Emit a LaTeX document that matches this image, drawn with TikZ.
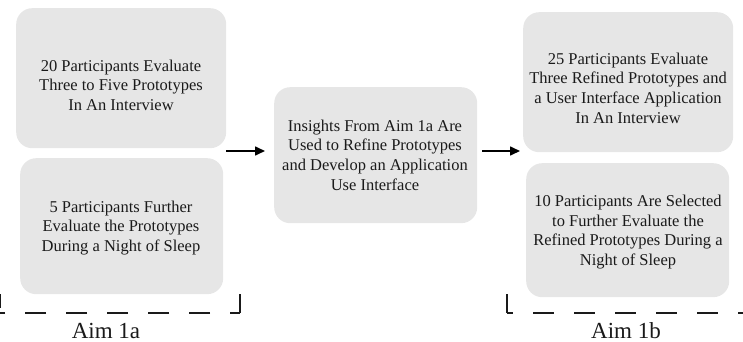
\documentclass[tikz,border=0pt]{standalone}
\usepackage{fontspec}
\setmainfont{Liberation Serif}
\usetikzlibrary{arrows.meta}
\definecolor{boxgray}{HTML}{E6E6E6}
\definecolor{txt}{HTML}{1A1A1A}
\begin{document}
\begin{tikzpicture}[x=1pt,y=-1pt,
  box/.style={fill=boxgray, rounded corners=16pt, inner sep=0pt, anchor=north west},
  lbl/.style={align=center, font=\fontsize{16.5}{19.6}\selectfont, text=txt, inner sep=0pt},
  aim/.style={font=\fontsize{23}{26}\selectfont, text=txt, inner sep=0pt},
  arr/.style={line width=1.6pt, -{Triangle[length=10pt,width=9pt]}},
  brk/.style={line width=1.6pt, txt},
  brkdash/.style={brk, dash pattern=on 21pt off 20pt}
]
\useasboundingbox (0,0) rectangle (743,342);

% boxes
\node[box, minimum width=210pt, minimum height=140pt] (b1) at (16,8) {};
\node[box, minimum width=203pt, minimum height=136pt] (b2) at (20,158) {};
\node[box, minimum width=203pt, minimum height=136pt] (mid) at (274,87) {};
\node[box, minimum width=210pt, minimum height=140pt] (r1) at (523,12) {};
\node[box, minimum width=203pt, minimum height=134pt] (r2) at (526,163) {};

% texts
\node[lbl] (t1) at (121,85) {20 Participants Evaluate\\Three to Five Prototypes\\In An Interview};
\node[lbl] (t2) at (121,228) {5 Participants Further\\Evaluate the Prototypes\\During a Night of Sleep};
\node[lbl] (tm) at (375,155) {Insights From Aim 1a Are\\Used to Refine Prototypes\\and Develop an Application\\Use Interface};
\node[lbl] (tr1) at (628,88) {25 Participants Evaluate\\Three Refined Prototypes and\\a User Interface Application\\In An Interview};
\node[lbl] (tr2) at (628,232) {10 Participants Are Selected\\to Further Evaluate the\\Refined Prototypes During a\\Night of Sleep};

% arrows
\coordinate (a1s) at (226,151);
\coordinate (a1e) at (265,151);
\coordinate (a2s) at (482,151);
\coordinate (a2e) at (520,151);
\draw[arr] (a1s) -- (a1e);
\draw[arr] (a2s) -- (a2e);

% brackets
\coordinate (lb0) at (0,294);
\coordinate (lb1) at (0,313);
\coordinate (lc0) at (240,294);
\coordinate (lc1) at (240,313);
\draw[brk] (lb0) -- (0,308);
\draw[brk] (lc0) -- (lc1);
\draw[brkdash, dash phase=11pt] (lc1) -- (lb1);
\coordinate (rc0) at (507,294);
\coordinate (rc1) at (507,313);
\coordinate (re1) at (743,313);
\draw[brk] (rc0) -- (rc1);
\draw[brkdash, dash phase=15pt] (rc1) -- (re1);

% aim labels
\node[aim] (aim1) at (106,331) {Aim 1a};
\node[aim] (aim2) at (626,331) {Aim 1b};
\end{tikzpicture}
\end{document}
